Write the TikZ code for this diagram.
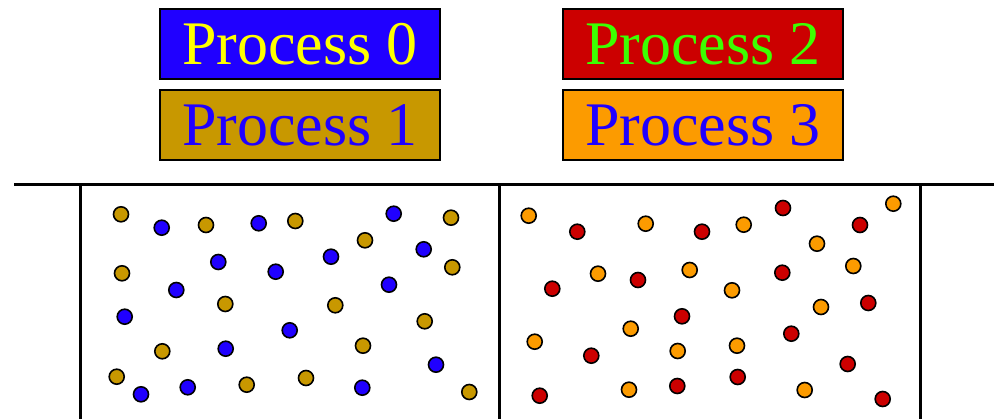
\documentclass[tikz,border=0pt]{standalone}
\usepackage{fontspec}
\setmainfont{Liberation Serif}
\definecolor{pblue}{RGB}{32,0,255}
\definecolor{pgold}{RGB}{200,152,0}
\definecolor{pred}{RGB}{204,0,0}
\definecolor{porange}{RGB}{252,155,0}
\definecolor{pgreen}{RGB}{60,255,0}
\definecolor{pyellow}{RGB}{255,255,0}
\tikzset{
  procbox/.style={draw=black, line width=2pt, minimum width=280pt, minimum height=70pt,
    inner sep=0pt, text height=42pt, text depth=0pt, font=\fontsize{62pt}{62pt}\selectfont},
  wall/.style={line width=3pt, black},
  dot/.style={circle, draw=black, line width=1.6pt, minimum size=15pt, inner sep=0pt},
}
\begin{document}
\begin{tikzpicture}[x=1pt,y=-1pt]
\useasboundingbox (0,0) rectangle (994,419);
\node[procbox, fill=pblue, text=pyellow] (p0) at (300,43.8) {Process 0};
\node[procbox, fill=pgold, text=pblue] (p1) at (300,124.6) {Process 1};
\node[procbox, fill=pred, text=pgreen] (p2) at (703,43.8) {Process 2};
\node[procbox, fill=porange, text=pblue] (p3) at (703,124.6) {Process 3};

\coordinate (hl) at (14,185);
\coordinate (hr) at (994,185);
\draw[wall] (hl) -- (hr);
\foreach \x [count=\i] in {80,499,920} {
  \coordinate (vt\i) at (\x,185);
  \coordinate (vb\i) at (\x,419);
  \draw[wall] (vt\i) -- (vb\i);
}

% left panel: gold dots
\foreach \x/\y [count=\i] in {121/214.3, 206/225, 295.3/221, 451/217.7, 365/240.3,
  122/273.3, 452.3/267.3, 225.3/304, 335.3/305.3, 424.7/321.3, 162.3/351.3,
  363/345.7, 116.7/376.7, 246.7/384.7, 306/378, 469.3/392}
  \node[dot, fill=pgold] (g\i) at (\x,\y) {};
% left panel: blue dots
\foreach \x/\y [count=\i] in {161.7/227.7, 258.7/223.3, 393.7/213.7, 423.7/249.3,
  331/256.7, 218.3/262, 275.7/271.7, 176.3/290, 389/284.7, 124.7/316.7,
  289.7/330.3, 225.7/348.7, 436/364.7, 141/394.3, 187.7/387.3, 362.3/387.7}
  \node[dot, fill=pblue] (b\i) at (\x,\y) {};
% right panel: orange dots
\foreach \x/\y [count=\i] in {528.7/215.7, 645.7/223.7, 743.7/224.7, 893.3/203.7,
  817/243.7, 853.3/266, 689.7/270, 598/273.7, 732/290.3, 821/307, 630.7/328.7,
  534.7/341.7, 677.7/351, 737/345.7, 629/389.7, 804.7/390}
  \node[dot, fill=porange] (o\i) at (\x,\y) {};
% right panel: red dots
\foreach \x/\y [count=\i] in {577.3/231.7, 702/231.7, 783/208, 860/225, 782.3/272.7,
  638/280, 552.3/288.7, 868.3/303, 682/316.3, 591.3/355.7, 791.3/333.7,
  847.7/364, 539.7/395.7, 677.3/386, 737.7/377, 882.7/399}
  \node[dot, fill=pred] (r\i) at (\x,\y) {};
\end{tikzpicture}
\end{document}
